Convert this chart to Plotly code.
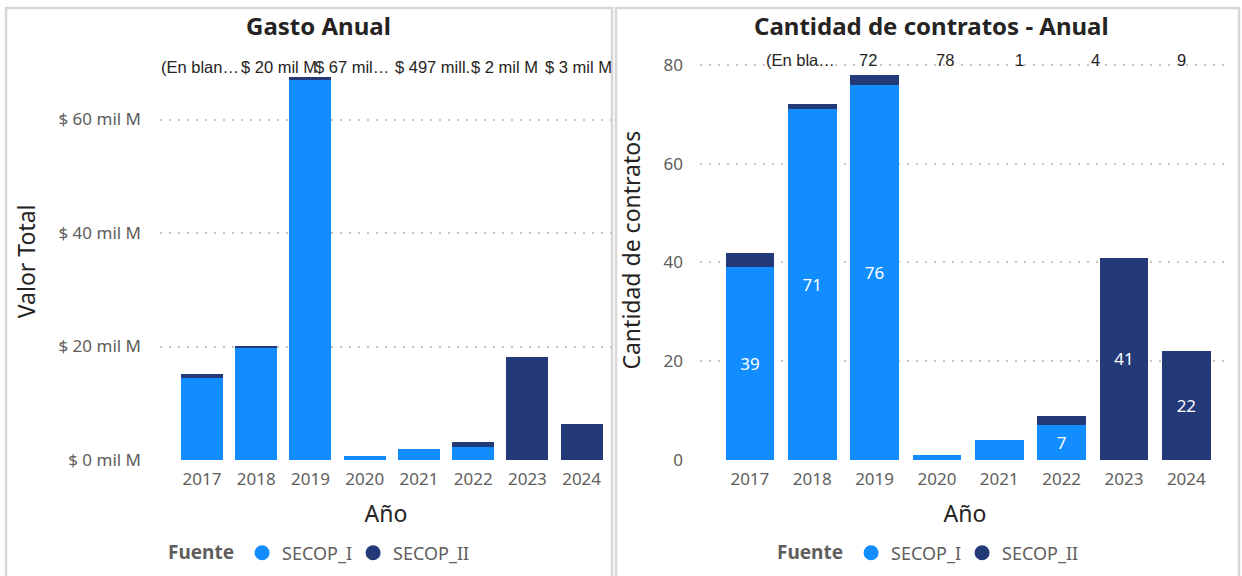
import plotly.graph_objects as go

# ---------------- data ----------------
years = ["2017", "2018", "2019", "2020", "2021", "2022", "2023", "2024"]

# Gasto anual (miles de millones de pesos)
gasto_secop_i = [14.5, 19.9, 67.0, 0.7, 2.0, 2.35, 0.0, 0.0]
gasto_secop_ii = [0.6, 0.2, 0.5, 0.0, 0.0, 0.75, 18.2, 6.3]
gasto_ticks = [0, 20, 40, 60]
gasto_ticktext = ["$ 0 mil M", "$ 20 mil M", "$ 40 mil M", "$ 60 mil M"]
gasto_top_labels = ["(En blan…", "$ 20 mil M", "$ 67 mil…", "$ 497 mill.", "$ 2 mil M", "$ 3 mil M"]

# Cantidad de contratos
cant_secop_i = [39, 71, 76, 1, 4, 7, 0, 0]
cant_secop_ii = [3, 1, 2, 0, 0, 2, 41, 22]
cant_ticks = [0, 20, 40, 60, 80]
cant_top_labels = ["(En bla…", "72", "78", "1", "4", "9"]

series_names = ["SECOP_I", "SECOP_II"]

# ---------------- style ----------------
W, H = 1242, 576
C1 = "#118DFF"
C2 = "#243A78"
GRID = "#C8C6C4"
TICK = "#605E5C"
DARK = "#252423"
FONT = "Noto Sans"
TOPFONT = "Liberation Sans"


def px(x):
    return x / W


def py(y):
    return 1 - y / H


def lbl(vals):
    return [str(v) if v >= 5 else "" for v in vals]


fig = go.Figure()

# left chart: gasto
fig.add_trace(go.Bar(x=years, y=gasto_secop_i, name=series_names[0], marker=dict(color=C1, line=dict(width=0)),
                     width=0.775, xaxis="x", yaxis="y", showlegend=False))
fig.add_trace(go.Bar(x=years, y=gasto_secop_ii, name=series_names[1], marker=dict(color=C2, line=dict(width=0)),
                     width=0.775, xaxis="x", yaxis="y", showlegend=False))
# right chart: cantidad
fig.add_trace(go.Bar(x=years, y=cant_secop_i, name=series_names[0], marker=dict(color=C1, line=dict(width=0)),
                     width=0.78, xaxis="x2", yaxis="y2", showlegend=False,
                     text=lbl(cant_secop_i), textposition="inside", insidetextanchor="middle",
                     textfont=dict(color="white", size=17, family=FONT), textangle=0))
fig.add_trace(go.Bar(x=years, y=cant_secop_ii, name=series_names[1], marker=dict(color=C2, line=dict(width=0)),
                     width=0.78, xaxis="x2", yaxis="y2", showlegend=False,
                     text=lbl(cant_secop_ii), textposition="inside", insidetextanchor="middle",
                     textfont=dict(color="white", size=17, family=FONT), textangle=0))

# legend entries (circle markers) + an empty spacer entry so the last label is not clipped
for lg, xa, ya in (("legend", "x", "y"), ("legend2", "x2", "y2")):
    for name, col in zip(series_names, (C1, C2)):
        fig.add_trace(go.Scatter(x=[None], y=[None], mode="markers", name=name,
                                 marker=dict(symbol="circle", size=15, color=col),
                                 xaxis=xa, yaxis=ya, legend=lg, showlegend=True))
    fig.add_trace(go.Scatter(x=[None], y=[None], mode="markers", name=" ",
                             marker=dict(size=1, color="rgba(0,0,0,0)", opacity=0),
                             xaxis=xa, yaxis=ya, legend=lg, showlegend=True, hoverinfo="skip"))

axis_common = dict(showline=False, ticks="", zeroline=False, automargin=False)
grid_common = dict(showgrid=True, gridcolor=GRID, griddash="2px,7px", gridwidth=1.5)
legend_common = dict(orientation="h", xanchor="left", yanchor="middle", traceorder="normal",
                     xref="container", yref="container",
                     title=dict(text="<b>Fuente</b>", font=dict(size=19, color=TICK)),
                     font=dict(size=18, color=TICK), bgcolor="rgba(0,0,0,0)", itemwidth=30,
                     entrywidth=66, entrywidthmode="pixels", itemclick=False, itemdoubleclick=False)

fig.update_layout(
    width=W, height=H,
    margin=dict(l=0, r=0, t=0, b=0, pad=0, autoexpand=False),
    paper_bgcolor="white", plot_bgcolor="white",
    barmode="stack",
    font=dict(family=FONT, color=DARK),
    xaxis=dict(domain=[px(160), px(612)], type="category", range=[-0.774, 7.56], showgrid=False,
               tickfont=dict(size=17, color=TICK), ticklabelstandoff=7, anchor="y",
               title=dict(text="Año", font=dict(size=23, color=DARK), standoff=16), **axis_common),
    yaxis=dict(domain=[py(460), py(62.75)], range=[0, 70], tickvals=gasto_ticks, ticktext=gasto_ticktext,
               tickfont=dict(size=17, color=TICK), ticklabelstandoff=18, anchor="x",
               title=dict(text="Valor Total", font=dict(size=23, color=DARK), standoff=16),
               **grid_common, **axis_common),
    xaxis2=dict(domain=[px(700), px(1230)], type="category", range=[-0.8, 7.7], showgrid=False,
                tickfont=dict(size=17, color=TICK), ticklabelstandoff=7, anchor="y2",
                title=dict(text="Año", font=dict(size=23, color=DARK), standoff=16), **axis_common),
    yaxis2=dict(domain=[py(460), py(40.3)], range=[0, 85], tickvals=cant_ticks,
                tickfont=dict(size=17, color=TICK), ticklabelstandoff=16, anchor="x2",
                title=dict(text="Cantidad de contratos", font=dict(size=23, color=DARK), standoff=16),
                **grid_common, **axis_common),
    legend=dict(x=px(166), y=py(553), **legend_common),
    legend2=dict(x=px(775), y=py(553), **legend_common),
    showlegend=True,
)

annotations = []
# titles
annotations.append(dict(text="<b>Gasto Anual</b>", x=px(318), y=py(25), xref="paper", yref="paper",
                        showarrow=False, font=dict(size=24, color=DARK, family=FONT), xanchor="center", yanchor="middle"))
annotations.append(dict(text="<b>Cantidad de contratos - Anual</b>", x=px(931), y=py(25), xref="paper", yref="paper",
                        showarrow=False, font=dict(size=24, color=DARK, family=FONT), xanchor="center", yanchor="middle"))
# total labels row
left_label_x = [200, 279, 352, 432, 505, 578]
for t, xx in zip(gasto_top_labels, left_label_x):
    annotations.append(dict(text=t, x=px(xx), y=py(67), xref="paper", yref="paper", showarrow=False,
                            font=dict(size=16.5, color=DARK, family=TOPFONT), xanchor="center", yanchor="middle"))
right_label_x = [800, 868, 945, 1019, 1095, 1181]
for t, xx in zip(cant_top_labels, right_label_x):
    annotations.append(dict(text=t, x=px(xx), y=py(60), xref="paper", yref="paper", showarrow=False,
                            font=dict(size=16.5, color=DARK, family=TOPFONT), xanchor="center", yanchor="middle"))
fig.update_layout(annotations=annotations)

# panel borders
fig.update_layout(shapes=[
    dict(type="rect", xref="paper", yref="paper", x0=px(6), x1=px(612), y0=py(600), y1=py(8),
         line=dict(color="#D6D6D6", width=2.5), fillcolor="rgba(0,0,0,0)", layer="below"),
    dict(type="rect", xref="paper", yref="paper", x0=px(616), x1=px(1239), y0=py(600), y1=py(8),
         line=dict(color="#D6D6D6", width=2.5), fillcolor="rgba(0,0,0,0)", layer="below"),
])

fig.write_html("out.html", config={"displayModeBar": False},
               post_script="document.body.style.margin='0';")
